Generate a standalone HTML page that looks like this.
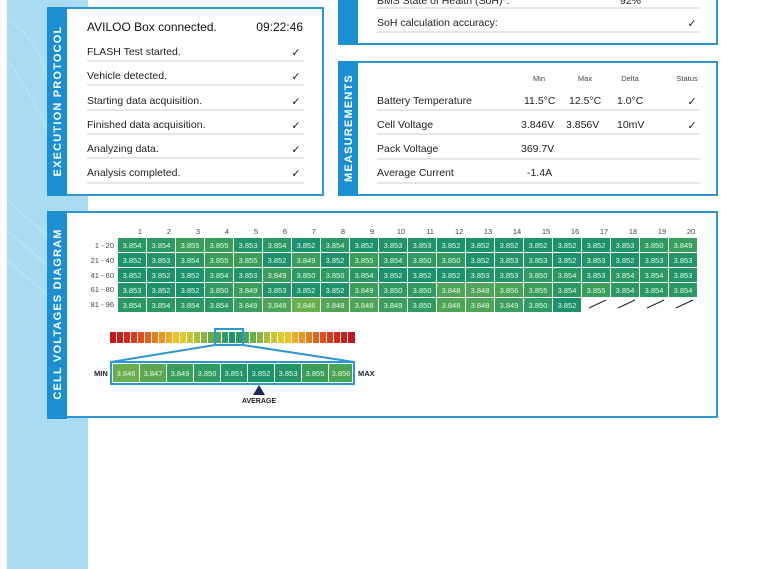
<!DOCTYPE html>
<html><head><meta charset="utf-8"><style>
html,body{margin:0;padding:0;width:759px;height:569px;overflow:hidden;background:#fff}
svg{display:block;font-family:"Liberation Sans",sans-serif}
.c text{font-size:7.5px;fill:#e8f6ee;text-anchor:middle}
.r{font-size:10.5px;fill:#222}
</style></head><body>
<svg width="759" height="569" viewBox="0 0 759 569" xmlns="http://www.w3.org/2000/svg">
<rect x="7" y="0" width="81" height="569" fill="#a9dcf3"/>
<g stroke="#c4e7f7" stroke-width="1" fill="none" opacity="0.8">
<path d="M7 20 Q40 40 47 80"/><path d="M7 60 Q30 90 47 130"/><path d="M7 200 L47 235"/><path d="M7 230 L47 265"/><path d="M7 260 L47 295"/>
</g>
<!-- Execution protocol panel -->
<rect x="48" y="8" width="275" height="187" fill="#fff" stroke="#2c97d3" stroke-width="2"/>
<rect x="47" y="7" width="20" height="189" fill="#1b8fd2"/>
<text transform="translate(61,101) rotate(-90)" text-anchor="middle" font-size="11" font-weight="bold" fill="#fff" letter-spacing="1.2">EXECUTION PROTOCOL</text>
<text x="87" y="31" font-size="12" fill="#111">AVILOO Box connected.</text>
<text x="303" y="31" font-size="12" fill="#111" text-anchor="end">09:22:46</text>
<g class="r">
<text x="87" y="55">FLASH Test started.</text>
<text x="87" y="79">Vehicle detected.</text>
<text x="87" y="104">Starting data acquisition.</text>
<text x="87" y="128">Finished data acquisition.</text>
<text x="87" y="152">Analyzing data.</text>
<text x="87" y="176">Analysis completed.</text>
</g>
<g stroke="#ccc" stroke-width="1">
<line x1="87" y1="61" x2="304" y2="61"/><line x1="87" y1="85" x2="304" y2="85"/><line x1="87" y1="110" x2="304" y2="110"/><line x1="87" y1="134" x2="304" y2="134"/><line x1="87" y1="158" x2="304" y2="158"/><line x1="87" y1="183" x2="304" y2="183"/>
</g>
<g font-size="11" fill="#222" text-anchor="middle">
<text x="296" y="56">✓</text><text x="296" y="80">✓</text><text x="296" y="105">✓</text><text x="296" y="129">✓</text><text x="296" y="153">✓</text><text x="296" y="177">✓</text>
</g>
<!-- top right panel -->
<rect x="339" y="-5" width="378" height="49" fill="#fff" stroke="#2c97d3" stroke-width="2"/>
<rect x="338" y="-5" width="20" height="50" fill="#1b8fd2"/>
<text x="377" y="4" class="r">BMS State of Health (SoH)*:</text>
<text x="620" y="4" class="r">92%</text>
<line x1="377" y1="8" x2="700" y2="8" stroke="#ccc"/>
<text x="377" y="26" class="r">SoH calculation accuracy:</text>
<text x="692" y="27" font-size="11" fill="#222" text-anchor="middle">✓</text>
<line x1="377" y1="32" x2="700" y2="32" stroke="#ccc"/>
<!-- measurements -->
<rect x="339" y="62" width="378" height="133" fill="#fff" stroke="#2c97d3" stroke-width="2"/>
<rect x="338" y="61" width="20" height="135" fill="#1b8fd2"/>
<text transform="translate(352,128) rotate(-90)" text-anchor="middle" font-size="11" font-weight="bold" fill="#fff" letter-spacing="1.2">MEASUREMENTS</text>
<g font-size="7.5" fill="#444" text-anchor="middle">
<text x="539" y="81">Min</text><text x="585" y="81">Max</text><text x="630" y="81">Delta</text><text x="687" y="81">Status</text>
</g>
<g class="r">
<text x="377" y="104">Battery Temperature</text><text x="524" y="104">11.5°C</text><text x="569" y="104">12.5°C</text><text x="617" y="104">1.0°C</text>
<text x="377" y="128">Cell Voltage</text><text x="521" y="128">3.846V</text><text x="566" y="128">3.856V</text><text x="617" y="128">10mV</text>
<text x="377" y="152">Pack Voltage</text><text x="521" y="152">369.7V</text>
<text x="377" y="176">Average Current</text><text x="527" y="176">-1.4A</text>
</g>
<g font-size="11" fill="#222" text-anchor="middle"><text x="692" y="105">✓</text><text x="692" y="129">✓</text></g>
<g stroke="#ccc"><line x1="377" y1="110" x2="700" y2="110"/><line x1="377" y1="134" x2="700" y2="134"/><line x1="377" y1="159" x2="700" y2="159"/><line x1="377" y1="183" x2="700" y2="183"/></g>
<!-- cell voltages -->
<rect x="48" y="212" width="669" height="205" fill="#fff" stroke="#2c97d3" stroke-width="2"/>
<rect x="47" y="211" width="20" height="208" fill="#1b8fd2"/>
<text transform="translate(61,314) rotate(-90)" text-anchor="middle" font-size="11" font-weight="bold" fill="#fff" letter-spacing="1.2">CELL VOLTAGES DIAGRAM</text>
<g font-size="7.5" fill="#444" text-anchor="middle">
<text x="140" y="234">1</text><text x="169" y="234">2</text><text x="198" y="234">3</text><text x="227" y="234">4</text><text x="256" y="234">5</text><text x="285" y="234">6</text><text x="314" y="234">7</text><text x="343" y="234">8</text><text x="372" y="234">9</text><text x="401" y="234">10</text><text x="430" y="234">11</text><text x="459" y="234">12</text><text x="488" y="234">13</text><text x="517" y="234">14</text><text x="546" y="234">15</text><text x="575" y="234">16</text><text x="604" y="234">17</text><text x="633" y="234">18</text><text x="662" y="234">19</text><text x="691" y="234">20</text>
</g>
<g font-size="7.5" fill="#444" text-anchor="end">
<text x="114" y="248">1 - 20</text><text x="114" y="263">21 - 40</text><text x="114" y="278">41 - 60</text><text x="114" y="292">61 - 80</text><text x="114" y="307">81 - 96</text>
</g>
<g class="c">
<g transform="translate(118,238)"><rect width="28" height="14" fill="#2a9862"/><text x="14" y="10">3.854</text></g>
<g transform="translate(147,238)"><rect width="28" height="14" fill="#2a9862"/><text x="14" y="10">3.854</text></g>
<g transform="translate(176,238)"><rect width="28" height="14" fill="#3a9e58"/><text x="14" y="10">3.855</text></g>
<g transform="translate(205,238)"><rect width="28" height="14" fill="#3a9e58"/><text x="14" y="10">3.855</text></g>
<g transform="translate(234,238)"><rect width="28" height="14" fill="#229468"/><text x="14" y="10">3.853</text></g>
<g transform="translate(263,238)"><rect width="28" height="14" fill="#2a9862"/><text x="14" y="10">3.854</text></g>
<g transform="translate(292,238)"><rect width="28" height="14" fill="#1b926c"/><text x="14" y="10">3.852</text></g>
<g transform="translate(321,238)"><rect width="28" height="14" fill="#2a9862"/><text x="14" y="10">3.854</text></g>
<g transform="translate(350,238)"><rect width="28" height="14" fill="#1b926c"/><text x="14" y="10">3.852</text></g>
<g transform="translate(379,238)"><rect width="28" height="14" fill="#229468"/><text x="14" y="10">3.853</text></g>
<g transform="translate(408,238)"><rect width="28" height="14" fill="#229468"/><text x="14" y="10">3.853</text></g>
<g transform="translate(437,238)"><rect width="28" height="14" fill="#1b926c"/><text x="14" y="10">3.852</text></g>
<g transform="translate(466,238)"><rect width="28" height="14" fill="#1b926c"/><text x="14" y="10">3.852</text></g>
<g transform="translate(495,238)"><rect width="28" height="14" fill="#1b926c"/><text x="14" y="10">3.852</text></g>
<g transform="translate(524,238)"><rect width="28" height="14" fill="#1b926c"/><text x="14" y="10">3.852</text></g>
<g transform="translate(553,238)"><rect width="28" height="14" fill="#1b926c"/><text x="14" y="10">3.852</text></g>
<g transform="translate(582,238)"><rect width="28" height="14" fill="#1b926c"/><text x="14" y="10">3.852</text></g>
<g transform="translate(611,238)"><rect width="28" height="14" fill="#229468"/><text x="14" y="10">3.853</text></g>
<g transform="translate(640,238)"><rect width="28" height="14" fill="#2f9a62"/><text x="14" y="10">3.850</text></g>
<g transform="translate(669,238)"><rect width="28" height="14" fill="#3c9e5c"/><text x="14" y="10">3.849</text></g>

<g transform="translate(118,253)"><rect width="28" height="14" fill="#1b926c"/><text x="14" y="10">3.852</text></g>
<g transform="translate(147,253)"><rect width="28" height="14" fill="#229468"/><text x="14" y="10">3.853</text></g>
<g transform="translate(176,253)"><rect width="28" height="14" fill="#2a9862"/><text x="14" y="10">3.854</text></g>
<g transform="translate(205,253)"><rect width="28" height="14" fill="#3a9e58"/><text x="14" y="10">3.855</text></g>
<g transform="translate(234,253)"><rect width="28" height="14" fill="#3a9e58"/><text x="14" y="10">3.855</text></g>
<g transform="translate(263,253)"><rect width="28" height="14" fill="#1b926c"/><text x="14" y="10">3.852</text></g>
<g transform="translate(292,253)"><rect width="28" height="14" fill="#3c9e5c"/><text x="14" y="10">3.849</text></g>
<g transform="translate(321,253)"><rect width="28" height="14" fill="#1b926c"/><text x="14" y="10">3.852</text></g>
<g transform="translate(350,253)"><rect width="28" height="14" fill="#3a9e58"/><text x="14" y="10">3.855</text></g>
<g transform="translate(379,253)"><rect width="28" height="14" fill="#2a9862"/><text x="14" y="10">3.854</text></g>
<g transform="translate(408,253)"><rect width="28" height="14" fill="#2f9a62"/><text x="14" y="10">3.850</text></g>
<g transform="translate(437,253)"><rect width="28" height="14" fill="#2f9a62"/><text x="14" y="10">3.850</text></g>
<g transform="translate(466,253)"><rect width="28" height="14" fill="#1b926c"/><text x="14" y="10">3.852</text></g>
<g transform="translate(495,253)"><rect width="28" height="14" fill="#229468"/><text x="14" y="10">3.853</text></g>
<g transform="translate(524,253)"><rect width="28" height="14" fill="#229468"/><text x="14" y="10">3.853</text></g>
<g transform="translate(553,253)"><rect width="28" height="14" fill="#1b926c"/><text x="14" y="10">3.852</text></g>
<g transform="translate(582,253)"><rect width="28" height="14" fill="#229468"/><text x="14" y="10">3.853</text></g>
<g transform="translate(611,253)"><rect width="28" height="14" fill="#1b926c"/><text x="14" y="10">3.852</text></g>
<g transform="translate(640,253)"><rect width="28" height="14" fill="#229468"/><text x="14" y="10">3.853</text></g>
<g transform="translate(669,253)"><rect width="28" height="14" fill="#229468"/><text x="14" y="10">3.853</text></g>

<g transform="translate(118,268)"><rect width="28" height="14" fill="#1b926c"/><text x="14" y="10">3.852</text></g>
<g transform="translate(147,268)"><rect width="28" height="14" fill="#1b926c"/><text x="14" y="10">3.852</text></g>
<g transform="translate(176,268)"><rect width="28" height="14" fill="#1b926c"/><text x="14" y="10">3.852</text></g>
<g transform="translate(205,268)"><rect width="28" height="14" fill="#2a9862"/><text x="14" y="10">3.854</text></g>
<g transform="translate(234,268)"><rect width="28" height="14" fill="#229468"/><text x="14" y="10">3.853</text></g>
<g transform="translate(263,268)"><rect width="28" height="14" fill="#3c9e5c"/><text x="14" y="10">3.849</text></g>
<g transform="translate(292,268)"><rect width="28" height="14" fill="#2f9a62"/><text x="14" y="10">3.850</text></g>
<g transform="translate(321,268)"><rect width="28" height="14" fill="#2f9a62"/><text x="14" y="10">3.850</text></g>
<g transform="translate(350,268)"><rect width="28" height="14" fill="#2a9862"/><text x="14" y="10">3.854</text></g>
<g transform="translate(379,268)"><rect width="28" height="14" fill="#1b926c"/><text x="14" y="10">3.852</text></g>
<g transform="translate(408,268)"><rect width="28" height="14" fill="#1b926c"/><text x="14" y="10">3.852</text></g>
<g transform="translate(437,268)"><rect width="28" height="14" fill="#1b926c"/><text x="14" y="10">3.852</text></g>
<g transform="translate(466,268)"><rect width="28" height="14" fill="#229468"/><text x="14" y="10">3.853</text></g>
<g transform="translate(495,268)"><rect width="28" height="14" fill="#229468"/><text x="14" y="10">3.853</text></g>
<g transform="translate(524,268)"><rect width="28" height="14" fill="#2f9a62"/><text x="14" y="10">3.850</text></g>
<g transform="translate(553,268)"><rect width="28" height="14" fill="#2a9862"/><text x="14" y="10">3.854</text></g>
<g transform="translate(582,268)"><rect width="28" height="14" fill="#229468"/><text x="14" y="10">3.853</text></g>
<g transform="translate(611,268)"><rect width="28" height="14" fill="#2a9862"/><text x="14" y="10">3.854</text></g>
<g transform="translate(640,268)"><rect width="28" height="14" fill="#2a9862"/><text x="14" y="10">3.854</text></g>
<g transform="translate(669,268)"><rect width="28" height="14" fill="#229468"/><text x="14" y="10">3.853</text></g>

<g transform="translate(118,283)"><rect width="28" height="14" fill="#229468"/><text x="14" y="10">3.853</text></g>
<g transform="translate(147,283)"><rect width="28" height="14" fill="#1b926c"/><text x="14" y="10">3.852</text></g>
<g transform="translate(176,283)"><rect width="28" height="14" fill="#1b926c"/><text x="14" y="10">3.852</text></g>
<g transform="translate(205,283)"><rect width="28" height="14" fill="#2f9a62"/><text x="14" y="10">3.850</text></g>
<g transform="translate(234,283)"><rect width="28" height="14" fill="#3c9e5c"/><text x="14" y="10">3.849</text></g>
<g transform="translate(263,283)"><rect width="28" height="14" fill="#229468"/><text x="14" y="10">3.853</text></g>
<g transform="translate(292,283)"><rect width="28" height="14" fill="#1b926c"/><text x="14" y="10">3.852</text></g>
<g transform="translate(321,283)"><rect width="28" height="14" fill="#1b926c"/><text x="14" y="10">3.852</text></g>
<g transform="translate(350,283)"><rect width="28" height="14" fill="#3c9e5c"/><text x="14" y="10">3.849</text></g>
<g transform="translate(379,283)"><rect width="28" height="14" fill="#2f9a62"/><text x="14" y="10">3.850</text></g>
<g transform="translate(408,283)"><rect width="28" height="14" fill="#2f9a62"/><text x="14" y="10">3.850</text></g>
<g transform="translate(437,283)"><rect width="28" height="14" fill="#4ea457"/><text x="14" y="10">3.848</text></g>
<g transform="translate(466,283)"><rect width="28" height="14" fill="#4ea457"/><text x="14" y="10">3.848</text></g>
<g transform="translate(495,283)"><rect width="28" height="14" fill="#4aa454"/><text x="14" y="10">3.856</text></g>
<g transform="translate(524,283)"><rect width="28" height="14" fill="#3a9e58"/><text x="14" y="10">3.855</text></g>
<g transform="translate(553,283)"><rect width="28" height="14" fill="#2a9862"/><text x="14" y="10">3.854</text></g>
<g transform="translate(582,283)"><rect width="28" height="14" fill="#3a9e58"/><text x="14" y="10">3.855</text></g>
<g transform="translate(611,283)"><rect width="28" height="14" fill="#2a9862"/><text x="14" y="10">3.854</text></g>
<g transform="translate(640,283)"><rect width="28" height="14" fill="#2a9862"/><text x="14" y="10">3.854</text></g>
<g transform="translate(669,283)"><rect width="28" height="14" fill="#2a9862"/><text x="14" y="10">3.854</text></g>

<g transform="translate(118,298)"><rect width="28" height="14" fill="#2a9862"/><text x="14" y="10">3.854</text></g>
<g transform="translate(147,298)"><rect width="28" height="14" fill="#2a9862"/><text x="14" y="10">3.854</text></g>
<g transform="translate(176,298)"><rect width="28" height="14" fill="#2a9862"/><text x="14" y="10">3.854</text></g>
<g transform="translate(205,298)"><rect width="28" height="14" fill="#2a9862"/><text x="14" y="10">3.854</text></g>
<g transform="translate(234,298)"><rect width="28" height="14" fill="#3c9e5c"/><text x="14" y="10">3.849</text></g>
<g transform="translate(263,298)"><rect width="28" height="14" fill="#4ea457"/><text x="14" y="10">3.848</text></g>
<g transform="translate(292,298)"><rect width="28" height="14" fill="#6aae4e"/><text x="14" y="10">3.846</text></g>
<g transform="translate(321,298)"><rect width="28" height="14" fill="#4ea457"/><text x="14" y="10">3.848</text></g>
<g transform="translate(350,298)"><rect width="28" height="14" fill="#4ea457"/><text x="14" y="10">3.848</text></g>
<g transform="translate(379,298)"><rect width="28" height="14" fill="#3c9e5c"/><text x="14" y="10">3.849</text></g>
<g transform="translate(408,298)"><rect width="28" height="14" fill="#2f9a62"/><text x="14" y="10">3.850</text></g>
<g transform="translate(437,298)"><rect width="28" height="14" fill="#4ea457"/><text x="14" y="10">3.848</text></g>
<g transform="translate(466,298)"><rect width="28" height="14" fill="#4ea457"/><text x="14" y="10">3.848</text></g>
<g transform="translate(495,298)"><rect width="28" height="14" fill="#3c9e5c"/><text x="14" y="10">3.849</text></g>
<g transform="translate(524,298)"><rect width="28" height="14" fill="#2f9a62"/><text x="14" y="10">3.850</text></g>
<g transform="translate(553,298)"><rect width="28" height="14" fill="#1b926c"/><text x="14" y="10">3.852</text></g>
</g>
<g stroke="#222" stroke-width="1"><line x1="589" y1="308" x2="606" y2="300"/><line x1="618" y1="308" x2="635" y2="300"/><line x1="647" y1="308" x2="664" y2="300"/><line x1="676" y1="308" x2="693" y2="300"/></g>
<!-- gradient bar -->
<g>
<rect x="110" y="332" width="6" height="11" fill="#c0161e"/><rect x="117" y="332" width="6" height="11" fill="#c91c1c"/><rect x="124" y="332" width="6" height="11" fill="#d2281b"/><rect x="131" y="332" width="6" height="11" fill="#da3a1a"/><rect x="138" y="332" width="6" height="11" fill="#e04e1a"/><rect x="145" y="332" width="6" height="11" fill="#e4651b"/><rect x="152" y="332" width="6" height="11" fill="#e87d1c"/><rect x="159" y="332" width="6" height="11" fill="#ec951f"/><rect x="166" y="332" width="6" height="11" fill="#eeac22"/><rect x="173" y="332" width="6" height="11" fill="#eec126"/><rect x="180" y="332" width="6" height="11" fill="#e2c92c"/><rect x="187" y="332" width="6" height="11" fill="#c8c535"/><rect x="194" y="332" width="6" height="11" fill="#a8bd3c"/><rect x="201" y="332" width="6" height="11" fill="#88b444"/><rect x="208" y="332" width="6" height="11" fill="#6aac4c"/>
<rect x="215" y="332" width="6" height="11" fill="#4ea457"/><rect x="222" y="332" width="6" height="11" fill="#2f9a62"/><rect x="229" y="332" width="6" height="11" fill="#1b926c"/><rect x="236" y="332" width="6" height="11" fill="#2a9862"/>
<rect x="243" y="332" width="6" height="11" fill="#4aa454"/><rect x="250" y="332" width="6" height="11" fill="#6aac4c"/><rect x="257" y="332" width="6" height="11" fill="#88b444"/><rect x="264" y="332" width="6" height="11" fill="#a8bd3c"/><rect x="271" y="332" width="6" height="11" fill="#c8c535"/><rect x="278" y="332" width="6" height="11" fill="#e2c92c"/><rect x="285" y="332" width="6" height="11" fill="#eec126"/><rect x="292" y="332" width="6" height="11" fill="#eeac22"/><rect x="299" y="332" width="6" height="11" fill="#ec951f"/><rect x="306" y="332" width="6" height="11" fill="#e87d1c"/><rect x="313" y="332" width="6" height="11" fill="#e4651b"/><rect x="320" y="332" width="6" height="11" fill="#e04e1a"/><rect x="327" y="332" width="6" height="11" fill="#da3a1a"/><rect x="334" y="332" width="6" height="11" fill="#d2281b"/><rect x="341" y="332" width="6" height="11" fill="#c91c1c"/><rect x="348" y="332" width="7" height="11" fill="#c0161e"/>
</g>
<rect x="215" y="329" width="28" height="16" fill="none" stroke="#2c97d3" stroke-width="2"/>
<line x1="215" y1="345" x2="111" y2="362" stroke="#2c97d3" stroke-width="2"/>
<line x1="243" y1="345" x2="354" y2="362" stroke="#2c97d3" stroke-width="2"/>
<rect x="111" y="362" width="243" height="22" fill="#fff" stroke="#2c97d3" stroke-width="2"/>
<g class="c">
<g transform="translate(113,364)"><rect width="26" height="18" fill="#6aae4e"/><text x="13" y="12">3.846</text></g>
<g transform="translate(140,364)"><rect width="26" height="18" fill="#5aa852"/><text x="13" y="12">3.847</text></g>
<g transform="translate(167,364)"><rect width="26" height="18" fill="#3c9e5c"/><text x="13" y="12">3.849</text></g>
<g transform="translate(194,364)"><rect width="26" height="18" fill="#2f9a62"/><text x="13" y="12">3.850</text></g>
<g transform="translate(221,364)"><rect width="26" height="18" fill="#249668"/><text x="13" y="12">3.851</text></g>
<g transform="translate(248,364)"><rect width="26" height="18" fill="#1b926c"/><text x="13" y="12">3.852</text></g>
<g transform="translate(275,364)"><rect width="26" height="18" fill="#229468"/><text x="13" y="12">3.853</text></g>
<g transform="translate(302,364)"><rect width="26" height="18" fill="#3a9e58"/><text x="13" y="12">3.855</text></g>
<g transform="translate(329,364)"><rect width="23" height="18" fill="#4aa454"/><text x="12" y="12">3.856</text></g>
</g>
<text x="94" y="376" font-size="7.5" font-weight="bold" fill="#222">MIN</text>
<text x="358" y="376" font-size="7.5" font-weight="bold" fill="#222">MAX</text>
<polygon points="259,385 253,395 265,395" fill="#1a2a5a"/>
<text x="259" y="403" font-size="7" font-weight="bold" fill="#222" text-anchor="middle">AVERAGE</text>
</svg>
</body></html>
